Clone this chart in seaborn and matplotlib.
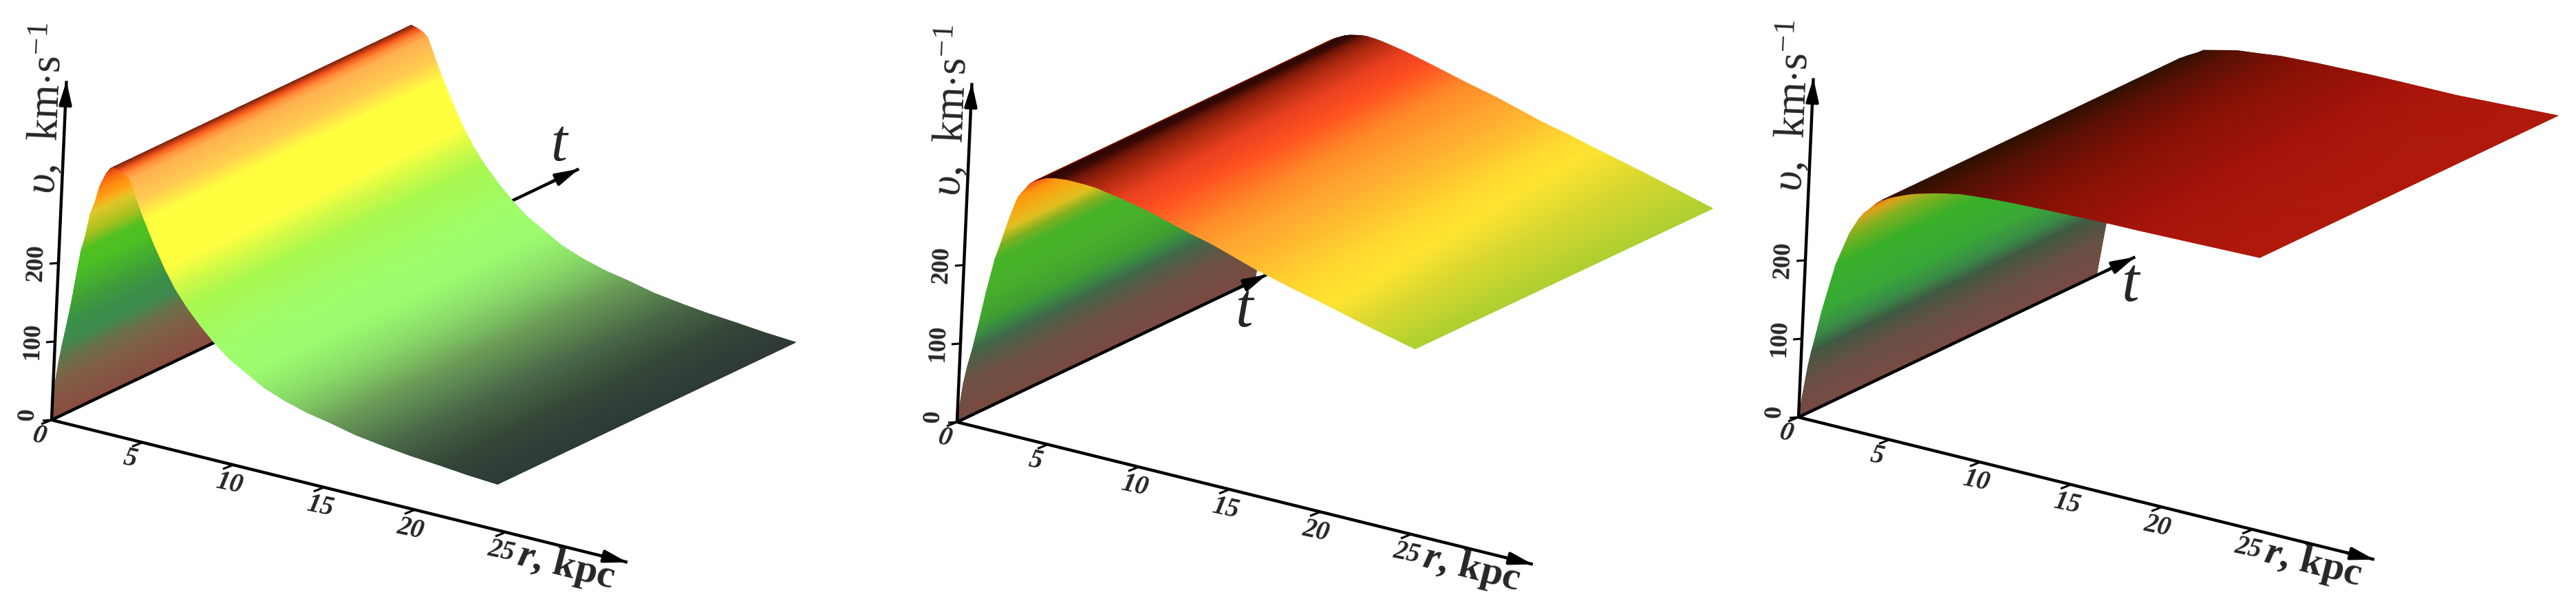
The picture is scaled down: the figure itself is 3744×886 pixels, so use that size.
import numpy as np
import matplotlib
matplotlib.use("Agg")
import matplotlib.pyplot as plt
import seaborn as sns

# ---------- data: iso-colour nodes of the three surfaces (r in kpc, v in km/s) ----------
# Panel 1
r1_rise = [0, .1, .25, .4, .6, .8, 1.06, 1.2, 1.4, 1.62, 1.85, 2.06, 2.25, 2.4, 2.6, 2.77]
v1_rise = [0, 47, 75, 98, 125, 154, 199, 222, 242, 272, 288, 309, 320, 328, 335, 338]
c1_rise = ["#8a4c42", "#806046", "#6a7048", "#3f8a50", "#3a9048", "#40a038", "#4cc024", "#50c020",
           "#a0c020", "#e0c828", "#ffa818", "#ff8010", "#f46410", "#e84c10", "#b83810", "#7a2410"]
r1_fall = [2.77, 3.1, 3.4, 3.68, 4.2, 4.6, 5.2, 5.82, 6.4, 7.1, 7.9, 8.66, 9.5, 10.5, 11.5, 12.67,
           13.9, 15.1, 16.6, 18.13, 19.6, 21.2, 22.8, 24.44]
v1_fall = [338, 336, 333, 328, 300, 280, 252, 226, 205, 184.5, 165, 148.7, 133, 120, 107, 97,
           89, 83.8, 76, 71, 67, 64, 60.5, 58]
c1_fall = ["#7a2410", "#f05018", "#ff8a38", "#ffb050", "#ffd050", "#ffff40", "#ffff40", "#ffff40",
           "#d0fa48", "#a8f850", "#a4fa5c", "#a0fc68", "#9efc6c", "#9cfc70", "#94ec6c", "#88d868",
           "#7abc60", "#6c9e58", "#5b8450", "#4a6a48", "#3f5940", "#364838", "#323f37", "#2e3a36"]
# Panel 2
r2_rise = [0, .25, .45, .67, .82, .98, 1.29, 1.68, 1.95, 2.18, 2.4, 2.6, 2.8, 3.37, 3.6, 3.8, 4.3]
v2_rise = [0, 50, 75, 97, 115, 134, 174, 217, 238, 258, 275, 290, 303, 322, 327, 330, 336]
c2_rise = ["#7a4a42", "#6e5242", "#565a46", "#3f6a48", "#3a8a44", "#40a030", "#48b02c", "#48b428",
           "#80b020", "#e0c020", "#f0b018", "#f8a210", "#ff9510", "#f06010", "#e04010", "#500e05",
           "#2a0604"]
r2_fall_front = [4.3, 4.65, 5.0, 5.4, 5.8, 6.4, 7.0, 8.4, 9.9, 12.2, 13.45, 16, 18, 20, 22, 24.77]
v2_fall_front = [336, 338, 339, 340, 340, 339.8, 339, 333.5, 326, 311, 304, 285, 273, 262, 250, 235]
r2_fall_back = [4.3, 4.6, 4.9, 5.2, 5.5, 5.9, 6.3, 7.6, 9, 11, 12.8, 15.2, 16.7, 18.2, 21, 24.75]
v2_fall_back = [336, 338.5, 340, 341.5, 342, 341.5, 340.5, 335, 327, 315, 305, 289, 281, 272, 256, 233]
c2_fall = ["#2a0604", "#320804", "#3a0a05", "#5a1206", "#7a1a08", "#96220c", "#b02a10", "#e84020",
           "#ff5020", "#ff8a28", "#ffa030", "#ffc030", "#ffd830", "#ffe430", "#d8d830", "#acd030"]
# Panel 3
r3_rise = [0, .25, .4, .55, .75, 1.02, 1.67, 2.35, 2.8, 3.06, 3.4, 3.7, 4.07, 4.5]
v3_rise = [0, 43, 68, 87, 109, 141, 204, 248, 268, 277, 285, 293, 300, 306]
c3_rise = ["#7a4a44", "#6a5044", "#565444", "#3f5a42", "#3a8a48", "#38a838", "#38b028", "#88b020",
           "#c8a820", "#e0a018", "#e49014", "#e88010", "#4a1a04", "#2a1200"]
r3_fall_front = [4.5, 5.1, 5.75, 7, 8.25, 9.6, 11, 13.3, 16, 18, 21, 24.74]
v3_fall_front = [306, 312, 318, 326, 332, 335, 337, 339, 341, 341.5, 343, 345]
r3_fall_back = [4.5, 4.9, 5.3, 6.2, 7.1, 8.3, 9.5, 11.5, 14.6, 16.5, 19.2, 24.74]
v3_fall_back = [306, 311, 317, 322, 327, 330, 333.5, 336, 338, 338.5, 339, 345]
c3_fall = ["#2a1200", "#321100", "#3a1000", "#4a1002", "#5a1005", "#6a1005", "#7a1005", "#8c1206",
           "#9a1208", "#a8140a", "#ac180b", "#b01a0c"]

r_ticks = [0, 5, 10, 15, 20, 25]
v_ticks = [0, 100, 200]

panels = [
    dict(rise=(r1_rise, v1_rise, r1_rise, v1_rise, c1_rise),
         fall=(r1_fall, v1_fall, r1_fall, v1_fall, c1_fall),
         origin=(75, 610), t_end=1.77, t_text=(812, 212), t_size=62),
    dict(rise=(r2_rise, v2_rise, r2_rise, v2_rise, c2_rise),
         fall=(r2_fall_front, v2_fall_front, r2_fall_back, v2_fall_back, c2_fall),
         origin=(1391, 613), t_end=1.04, t_text=(1809, 452), t_size=66),
    dict(rise=(r3_rise, v3_rise, r3_rise, v3_rise, c3_rise),
         fall=(r3_fall_front, v3_fall_front, r3_fall_back, v3_fall_back, c3_fall),
         origin=(2614, 606), t_end=1.13, t_text=(3097, 415), t_size=66),
]

# ---------- oblique projection (pixels per unit) ----------
UR = np.array([26.4, 6.52])
UT = np.array([433.0, -206.0])
UV = np.array([0.05, -1.14])
R_END = 31.7
V_END = 432

sns.set_theme(style="white", rc={"axes.facecolor": "white", "figure.facecolor": "white"})
plt.rcParams["font.family"] = ["Liberation Serif", "DejaVu Serif"]
plt.rcParams["mathtext.fontset"] = "custom"
plt.rcParams["mathtext.rm"] = "Liberation Serif"
plt.rcParams["mathtext.it"] = "Liberation Serif:italic"
plt.rcParams["mathtext.bf"] = "Liberation Serif:bold"
plt.rcParams["mathtext.bfit"] = "Liberation Serif:italic:bold"

LW = 3.2
fig = plt.figure(figsize=(37.44, 8.86), dpi=100)


def proj(o, r, t, v):
    r, t, v = np.asarray(r, float), np.asarray(t, float), np.asarray(v, float)
    return (o[0] + r * UR[0] + t * UT[0] + v * UV[0],
            o[1] + r * UR[1] + t * UT[1] + v * UV[1])


def surface(ax, o, table, z):
    rf, vf, rb, vb, cols = table
    x0, y0 = proj(o, rf, 0, vf)
    x1, y1 = proj(o, rb, 1, vb)
    X = np.column_stack([x0, x1])
    Y = np.column_stack([y0, y1])
    rgb = np.array(sns.color_palette(cols))
    C = np.stack([rgb, rgb], axis=1)
    for _ in range(2):  # second pass hides seams between gouraud triangles
        ax.pcolormesh(X, Y, C, shading="gouraud", zorder=z, rasterized=False)


def segment(ax, p, q, z, lw=LW):
    sns.lineplot(x=[p[0], q[0]], y=[p[1], q[1]], color="black", lw=lw, sort=False,
                 estimator=None, ax=ax, zorder=z, solid_capstyle="butt")


def arrow(ax, p, q, z):
    ax.annotate("", xy=q, xytext=p, zorder=z, annotation_clip=False,
                arrowprops=dict(arrowstyle="-|>,head_length=1.0,head_width=0.27", color="black",
                                lw=LW, shrinkA=0, shrinkB=0, mutation_scale=20))


for i, p in enumerate(panels):
    ax = fig.add_axes([i / 3, 0, 1 / 3, 1])
    o = p["origin"]

    surface(ax, o, p["rise"], 1)
    surface(ax, o, p["fall"], 3)

    # axes
    o_xy = proj(o, 0, 0, 0)
    t_tip = proj(o, 0, p["t_end"], 0)
    r_tip = proj(o, R_END, 0, 0)
    v_tip = proj(o, 0, 0, V_END)
    # the t axis goes between the rising and the falling part of the surface
    segment(ax, o_xy, t_tip, 2)
    arrow(ax, proj(o, 0, p["t_end"] - 0.1, 0), t_tip, 2)
    segment(ax, o_xy, r_tip, 4)
    arrow(ax, proj(o, R_END - 1.5, 0, 0), r_tip, 4)
    segment(ax, o_xy, v_tip, 4)
    arrow(ax, proj(o, 0, 0, V_END - 30), v_tip, 4)

    # ticks and tick labels
    for r in r_ticks:
        x, y = proj(o, r, 0, 0)
        segment(ax, (x, y), (x - 15, y + 6), 4, lw=2.2)
        off = (-18, 24) if r < 10 else (-6, 28)
        ax.text(x + off[0], y + off[1], str(r), fontsize=28, fontweight="bold", fontstyle="italic",
                rotation=-12, ha="center", va="center", rotation_mode="anchor", zorder=5)
    for v in v_ticks:
        x, y = proj(o, 0, 0, v)
        segment(ax, (x, y), (x - 13, y + 1), 4, lw=2.2)
        ax.text(x - (35 if v == 0 else 32), y + (-8 if v == 0 else 0), str(v), fontsize=26,
                fontweight="bold", rotation=88, ha="center", va="center",
                rotation_mode="anchor", zorder=5)

    # axis titles
    ax.text(o[0] + 748, o[1] + 213, r"$\mathbfit{r}\mathbf{,\,kpc}$", fontsize=42, rotation=-14,
            ha="center", va="center", rotation_mode="anchor", zorder=5)
    ax.text(o[0] - 7, o[1] - 452, r"$\mathit{\upsilon}$,  km$\cdot$s$^{-1}$", fontsize=46,
            rotation=87.5, ha="center", va="center", rotation_mode="anchor", zorder=5)
    ax.text(p["t_text"][0], p["t_text"][1], "t", fontsize=p["t_size"], fontstyle="italic",
            ha="center", va="center", zorder=5)

    ax.set_xlim(i * 1248, (i + 1) * 1248)
    ax.set_ylim(886, 0)
    ax.set_axis_off()

fig.savefig("out.png", dpi=100, facecolor="white")
